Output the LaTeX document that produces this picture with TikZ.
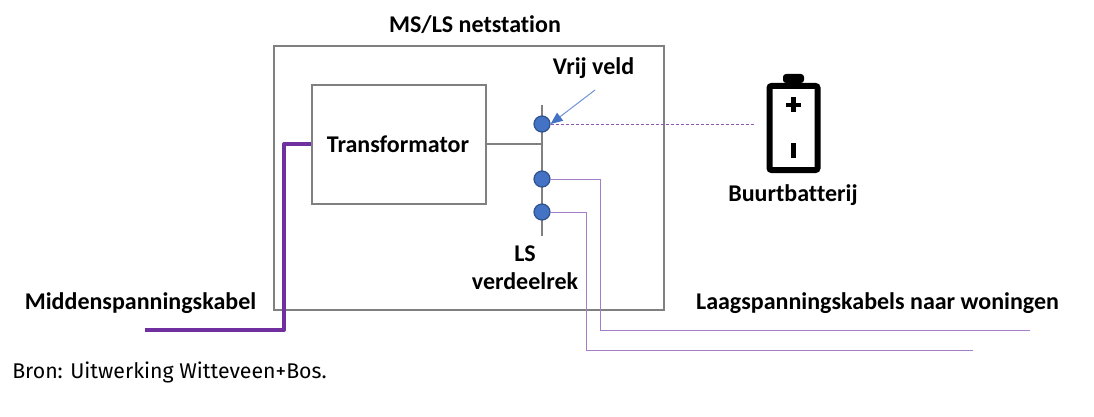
\documentclass[tikz,border=0pt]{standalone}
\usepackage{fontspec}
\setmainfont[Ligatures=CommonOff]{Carlito}
\newfontfamily\bronfont[Ligatures=CommonOff]{Fira Sans}
\usetikzlibrary{arrows.meta}

\definecolor{kabelpaars}{HTML}{7030A0}
\definecolor{klemblauw}{HTML}{4472C4}
\definecolor{klemrand}{HTML}{2F528F}
\definecolor{pijlblauw}{HTML}{6F94D6}
\definecolor{lichtpaars}{HTML}{A47FC8}

\tikzset{
	lbl/.style={inner sep=0pt,font=\fontsize{24}{28}\selectfont\bfseries,align=center},
	kast/.style={draw=black!50,line width=1.5pt,inner sep=0pt},
	klem/.style={circle,draw=klemrand,fill=klemblauw,line width=1.2pt,minimum size=16pt,inner sep=0pt},
	rail/.style={draw=black!50,line width=1.5pt},
	lskabel/.style={draw=lichtpaars,line width=1pt},
	mskabel/.style={draw=kabelpaars,line width=4pt,line join=round}
}

\begin{document}
\begin{tikzpicture}[line cap=butt,line join=miter,x=1pt,y=-1pt]
		\useasboundingbox (0,0) rectangle (1094,417);

		\node [kast,minimum width=390pt,minimum height=264pt] (station) at (469,178) {};
		\node [kast,minimum width=174pt,minimum height=119pt] (trafo) at (399,144.5) {};
		\node [lbl] (trafotxt) at (398,144) {Transformator};
		\node [lbl] (titel) at (475,25) {MS/LS netstation};
		\node [lbl] (vrij) at (593.5,68) {Vrij veld};
		\node [lbl] (rek) at (525,267.5) {LS\\verdeelrek};
		\node [lbl] (ms) at (140.5,303) {Middenspanningskabel};
		\node [lbl] (ls) at (877.5,303) {Laagspanningskabels naar woningen};
		\node [lbl] (buurt) at (793,195) {Buurtbatterij};
		\node [inner sep=0pt,font=\bronfont\fontsize{21.3}{25}\selectfont] (bron) at (169.5,372.5) {Bron: Uitwerking Witteveen+Bos.};

		% rail met klemmen
		\coordinate (railtop) at (542,105);
		\coordinate (railbot) at (542,236);
		\coordinate (tap) at (542,144);
		\draw [rail] (railtop) -- (railbot);
		\draw [rail] (trafo.east |- tap) -- (tap);

		% kabels
		\coordinate (mseind) at (145,330);
		\coordinate (ms1) at (284,330);
		\coordinate (ms2) at (284,144);
		\draw [mskabel] (mseind) -- (ms1) -- (ms2) -- (ms2 -| trafo.west);

		\node [klem] (k1) at (542,124) {};
		\node [klem] (k2) at (542,179) {};
		\node [klem] (k3) at (542,212) {};

		\coordinate (ls1) at (600,330);
		\coordinate (ls1eind) at (1030,330);
		\coordinate (ls2) at (586,350);
		\coordinate (ls2eind) at (973,350);
		\draw [lskabel] (k2) -| (ls1) -- (ls1eind);
		\draw [lskabel] (k3) -| (ls2) -- (ls2eind);

		\coordinate (batin) at (754,124);
		\draw [draw=kabelpaars!80,line width=0.8pt,dash pattern=on 3pt off 2pt] (k1) -- (batin);

		\coordinate (pijl) at (595,90);
		\draw [draw=pijlblauw,line width=1pt,-{Triangle[length=12pt,width=10pt,color=klemblauw]}] (pijl) -- (k1.east);

		% batterij
		\fill [rounded corners=3pt] (783,83) -- (783,74) -- (804,74) -- (804,83) -- cycle;
		\draw [line width=6pt,rounded corners=2pt] (769.5,86) rectangle (817.5,170);
		\draw [line width=4.5pt] (786,105) -- (801,105);
		\draw [line width=4.5pt] (793.5,97.5) -- (793.5,112.5);
		\draw [line width=4.5pt] (793.5,143) -- (793.5,158);
	\end{tikzpicture}
\end{document}
